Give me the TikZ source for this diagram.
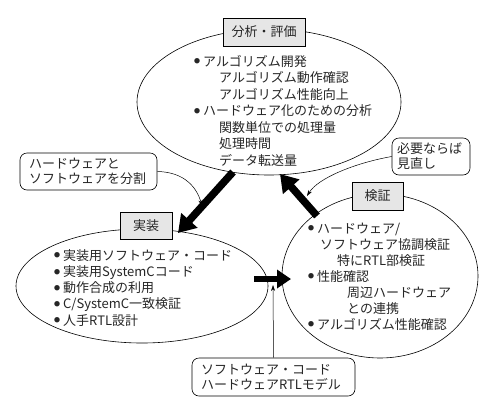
\documentclass[tikz,border=0pt]{standalone}
\usepackage{fontspec}
\setmainfont{Noto Sans CJK JP}
\usetikzlibrary{arrows.meta,shapes.geometric}
\definecolor{boxgray}{HTML}{E6E6E6}
\definecolor{inkc}{HTML}{262626}
\newcommand{\mybul}{\raisebox{2.4pt}{\fontsize{6}{6}\selectfont ●}\hspace{3pt}}
\begin{document}
\begin{tikzpicture}[x=1pt,y=-1pt,
  font=\fontsize{13}{15}\selectfont,
  region/.style={draw, ellipse, inner sep=0pt, line width=0.6pt},
  titlebox/.style={draw, fill=boxgray, line width=0.6pt, inner sep=0pt, text=inkc},
  callout/.style={draw, rounded corners=7pt, line width=0.6pt, align=left, inner ysep=0pt, text=inkc},
  txt/.style={anchor=base west, inner sep=0pt, text=inkc},
  bigarrow/.style={line width=7.5pt, -{Triangle[length=17pt,width=21pt]}},
  midarrow/.style={line width=6.5pt, -{Triangle[length=14pt,width=18pt]}},
  thinarrow/.style={line width=0.5pt, -{Stealth[length=6pt,width=4pt]}}]
\useasboundingbox (0,0) rectangle (502,402);
\fill[white] (0,0) rectangle (502,402);

% regions
\node[region, minimum width=264, minimum height=146] (analysis) at (269,102) {};
\node[region, minimum width=252, minimum height=114] (impl) at (142,286) {};
\node[region, minimum width=196, minimum height=164] (verif) at (380,276) {};

% title boxes
\node[titlebox, minimum width=82, minimum height=28] (tA) at (264,32) {分析・評価};
\node[titlebox, minimum width=52, minimum height=27] (tI) at (146,225.5) {実装};
\node[titlebox, minimum width=51, minimum height=28] (tV) at (377.5,196) {検証};

% analysis text
\node[txt] (a1) at (194,66) {\mybul アルゴリズム開発};
\node[txt] (a2) at (219,82.5) {アルゴリズム動作確認};
\node[txt] (a3) at (219,99) {アルゴリズム性能向上};
\node[txt] (a4) at (194,115.5) {\mybul ハードウェア化のための分析};
\node[txt] (a5) at (219,132) {関数単位での処理量};
\node[txt] (a6) at (219,148.5) {処理時間};
\node[txt] (a7) at (219,165) {データ転送量};

% implementation text
\node[txt] (i1) at (54,260) {\mybul 実装用ソフトウェア・コード};
\node[txt] (i2) at (54,276.5) {\mybul 実装用SystemCコード};
\node[txt] (i3) at (54,292.5) {\mybul 動作合成の利用};
\node[txt] (i4) at (54,308.5) {\mybul C/SystemC一致検証};
\node[txt] (i5) at (54,325) {\mybul 人手RTL設計};

% verification text
\node[txt] (v1) at (308,233) {\mybul ハードウェア/};
\node[txt] (v2) at (320,249) {ソフトウェア協調検証};
\node[txt] (v3) at (337,265) {特にRTL部検証};
\node[txt] (v4) at (308,281) {\mybul 性能確認};
\node[txt] (v5) at (347,297) {周辺ハードウェア};
\node[txt] (v6) at (347,313) {との連携};
\node[txt] (v7) at (308,329) {\mybul アルゴリズム性能確認};

% callouts
\node[callout, minimum width=137, minimum height=37, text width=119, inner xsep=9pt] (c1) at (88.5,171.5) {ハードウェアと\\ソフトウェアを分割};
\node[callout, minimum width=78, minimum height=37, text width=68, inner xsep=5pt] (c2) at (431,156.5) {必要ならば\\見直し};
\node[callout, minimum width=163, minimum height=38, text width=145, inner xsep=9pt] (c3) at (273.5,377) {ソフトウェア・コード\\ハードウェアRTLモデル};

% thick arrows
\coordinate (s1) at (233,172);
\coordinate (e1) at (178,233);
\coordinate (s2) at (317,216);
\coordinate (e2) at (280,174);
\coordinate (s3) at (254,279);
\coordinate (e3) at (291,279);
\draw[bigarrow] (s1) -- (e1);
\draw[bigarrow] (s2) -- (e2);
\draw[midarrow] (s3) -- (e3);

% thin arrows
\coordinate (p1) at (202,206);
\coordinate (p2) at (307,196);
\coordinate (p3) at (273,285);
\draw[thinarrow] (c1.east) .. controls (185,172) and (197,188) .. (p1);
\draw[thinarrow] (c2.west) .. controls (355,163) and (318,178) .. (p2);
\draw[thinarrow] (c3.north) -- (p3);
\end{tikzpicture}
\end{document}
